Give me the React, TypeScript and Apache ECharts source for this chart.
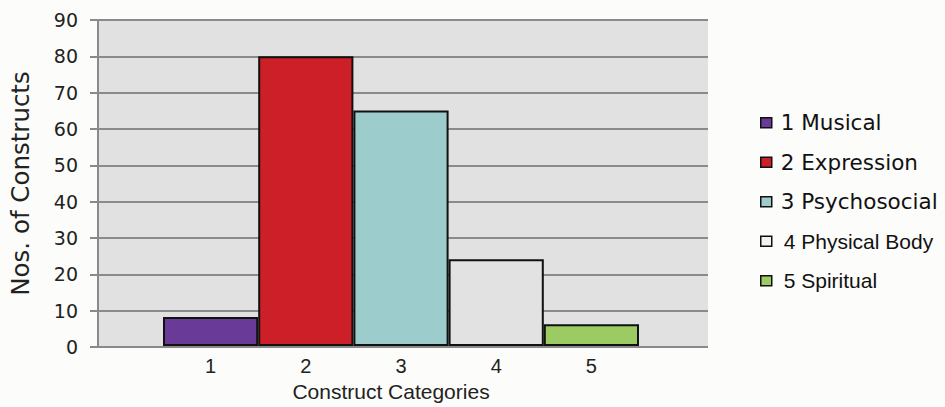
import React, { useEffect, useRef } from "react";
import * as echarts from "echarts";

const categories = ["1", "2", "3", "4", "5"];
const values = [8, 80, 65, 24, 6];
const seriesNames = ["1 Musical", "2 Expression", "3 Psychosocial", "4 Physical Body", "5 Spiritual"];
const colors = ["#693a97", "#cc1f27", "#9ccccb", "#e2e2e2", "#9bcb62"];
const legendIconColors = ["#693a97", "#cc1f27", "#9ccccb", "#f2f2f2", "#9bcb62"];
const yTicks = { min: 0, max: 90, interval: 10 };

export default function App() {
  const ref = useRef<HTMLDivElement>(null);
  useEffect(() => {
    if (!ref.current) return;
    const chart = echarts.init(ref.current, null, { renderer: "svg" });
    const wideFont = "DejaVu Sans";
    const narrowFont = "Liberation Sans";
    chart.setOption({
      animation: false,
      backgroundColor: "#fcfcfa",
      grid: [
        { left: 93, top: 20, width: 615, height: 327, show: true, backgroundColor: "#e1e1e1", borderWidth: 0 },
        { left: 163, top: 20, width: 476, height: 327 },
      ],
      xAxis: [
        { type: "value", gridIndex: 0, show: false, min: 0, max: 1 },
        {
          type: "category",
          gridIndex: 1,
          data: categories,
          axisLine: { show: false },
          axisTick: { show: false },
          axisLabel: { margin: 10, color: "#222", fontFamily: narrowFont, fontSize: 20 },
          name: "Construct Categories",
          nameLocation: "middle",
          nameGap: 34,
          nameTextStyle: { color: "#222", fontFamily: narrowFont, fontSize: 21, padding: [0, 20, 0, 0] },
        },
      ],
      yAxis: [
        {
          type: "value",
          gridIndex: 0,
          min: yTicks.min,
          max: yTicks.max,
          interval: yTicks.interval,
          axisLine: { show: true, lineStyle: { color: "#8a8a8a", width: 2 } },
          axisTick: { show: true, length: 8, lineStyle: { color: "#8a8a8a", width: 2 } },
          splitLine: { show: true, lineStyle: { color: "#8a8a8a", width: 2 } },
          axisLabel: { margin: 20, color: "#222", fontFamily: wideFont, fontSize: 19 },
          name: "Nos. of Constructs",
          nameLocation: "middle",
          nameGap: 65,
          nameTextStyle: { color: "#222", fontFamily: wideFont, fontSize: 24.5 },
        },
        { type: "value", gridIndex: 1, min: yTicks.min, max: yTicks.max, interval: yTicks.interval, show: false, splitLine: { show: false } },
      ],
      legend: {
        orient: "vertical",
        left: 755,
        top: 106,
        itemWidth: 11,
        itemHeight: 10,
        itemGap: 16,
        icon: "rect",
        itemStyle: { borderColor: "#111", borderWidth: 1.5 },
        textStyle: { color: "#111", fontFamily: wideFont, fontSize: 21, lineHeight: 23.5 },
        data: seriesNames.map((n, i) => ({
          name: n,
          itemStyle: { color: legendIconColors[i] },
          textStyle:
            i >= 3
              ? { color: "#111", fontFamily: narrowFont, fontSize: 21, lineHeight: 23.5, padding: [0, 0, 0, 7] }
              : { color: "#111", fontFamily: wideFont, fontSize: 21.5, lineHeight: 23.5, padding: [0, 0, 0, 4] },
        })),
      },
      series: seriesNames.map((n, i) => ({
        type: "bar",
        name: n,
        xAxisIndex: 1,
        yAxisIndex: 1,
        barWidth: "100%",
        barGap: "-100%",
        data: categories.map((_, j) => (j === i ? values[i] : "-")),
        itemStyle: { color: colors[i], borderColor: "#111", borderWidth: 2 },
      })),
    });
    return () => chart.dispose();
  }, []);
  return <div ref={ref} style={{ position: "fixed", left: 0, top: 0, width: 945, height: 407 }} />;
}
